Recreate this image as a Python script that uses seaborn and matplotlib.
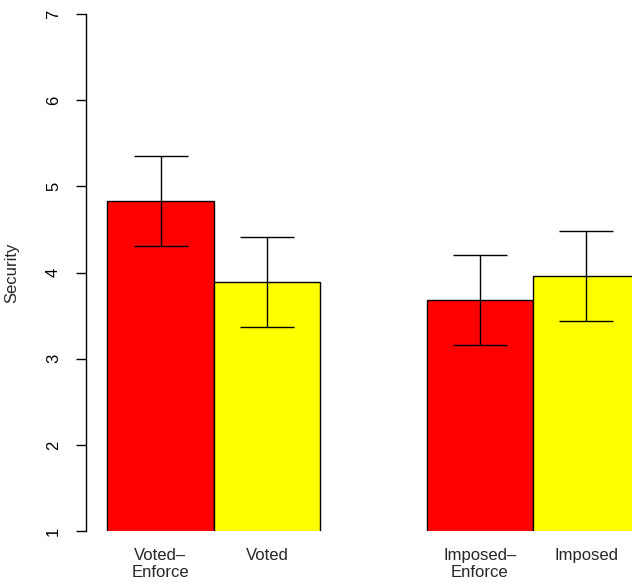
import pandas as pd
import matplotlib.pyplot as plt
import seaborn as sns

# === Values
conditions = ["Voted\u2013\nEnforce", "Voted", "Imposed\u2013\nEnforce", "Imposed"]
security_mean = [4.83, 3.89, 3.68, 3.96]
security_err = [0.52, 0.52, 0.52, 0.52]
bar_colors = ["#FF0000", "#FFFF00", "#FF0000", "#FFFF00"]
y_ticks = [1, 2, 3, 4, 5, 6, 7]

df = pd.DataFrame({"condition": conditions, "security": security_mean, "err": security_err})

# empty slot between the two groups
spacer = " "
order = conditions[:2] + [spacer] + conditions[2:]

sns.set_style("white")
plt.rcParams['font.family'] = ['Liberation Sans', 'DejaVu Sans']

fig = plt.figure(figsize=(6.32, 5.83), dpi=100)
ax = fig.add_axes([86 / 632, 52 / 583, 1 - 86 / 632, 517 / 583])

sns.barplot(data=df, x="condition", y="security", hue="condition", order=order,
            hue_order=conditions, palette=bar_colors, saturation=1, width=1.0,
            errorbar=None, edgecolor="black", linewidth=1.0, legend=False, ax=ax)

# error bars from the listed errors
xpos = [order.index(c) for c in conditions]
ax.errorbar(xpos, df["security"], yerr=df["err"], fmt="none", ecolor="black",
            elinewidth=1.0, capsize=19.4, capthick=1.0)

ax.set_ylim(1, 7)
ax.set_xlim(-0.7, 4.43)
ax.set_yticks(y_ticks)
ax.set_yticklabels([str(t) for t in y_ticks], fontsize=12)
ax.tick_params(axis="y", length=7, width=1, direction="out", pad=11, left=True,
               colors="black", labelrotation=90)
for lab in ax.get_yticklabels():
    lab.set_verticalalignment("center")
ax.tick_params(axis="x", length=0, pad=12, labelsize=12)
ax.set_xlabel("")
ax.set_ylabel("Security", fontsize=12, va="center")
ax.yaxis.set_label_coords((12 - 86) / 546, 0.5)

for s in ["top", "right", "bottom"]:
    ax.spines[s].set_visible(False)
ax.spines["left"].set_bounds(1, 7)
ax.spines["left"].set_color("black")
ax.spines["left"].set_linewidth(1)

fig.savefig("out.png", dpi=100)
plt.close()
